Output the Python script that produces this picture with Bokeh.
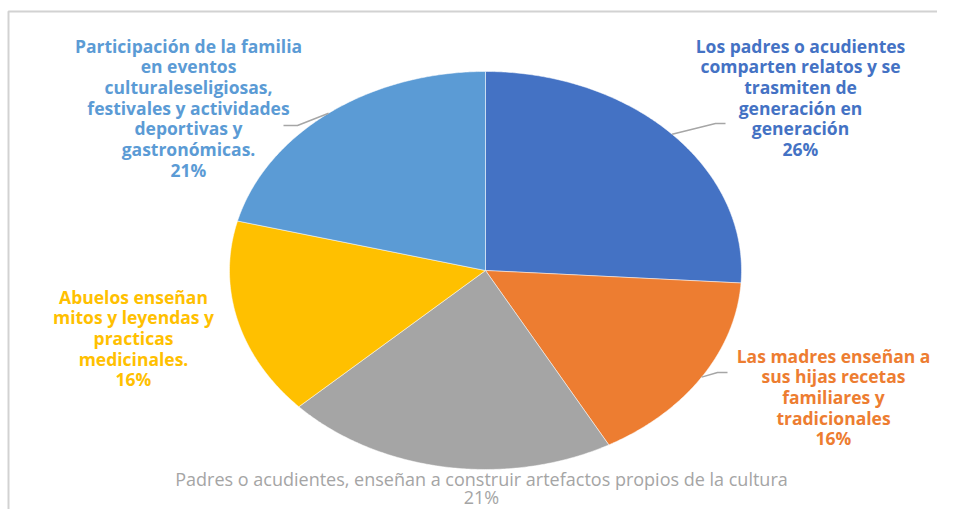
import math
from bokeh.plotting import figure
from bokeh.models import Range1d, ColumnDataSource
from bokeh.core.properties import value
from bokeh.embed import file_html
from bokeh.resources import INLINE

# ---- data ----
categories = [
    "Los padres o acudientes comparten relatos y se trasmiten de generación en generación",
    "Las madres enseñan a sus hijas recetas familiares y tradicionales",
    "Padres o acudientes, enseñan a construir artefactos propios de la cultura",
    "Abuelos enseñan mitos y leyendas y practicas medicinales.",
    "Participación de la familia en eventos culturaleseligiosas, festivales y actividades deportivas y gastronómicas.",
]
percents = [26, 16, 21, 16, 21]
colors = ["#4472C4", "#ED7D31", "#A5A5A5", "#FFC000", "#5B9BD5"]
label_lines = [
    ["Los padres o acudientes", "comparten relatos y se", "trasmiten de", "generación en", "generación"],
    ["Las madres enseñan a", "sus hijas recetas", "familiares y", "tradicionales"],
    ["Padres o acudientes, enseñan a construir artefactos propios de la cultura"],
    ["Abuelos enseñan", "mitos y leyendas y", "practicas", "medicinales."],
    ["Participación de la familia", "en eventos", "culturaleseligiosas,", "festivales y actividades", "deportivas y", "gastronómicas."],
]

# ---- layout (image pixel coordinates) ----
W, H = 937, 509
CX, CY, RX, RY = 485.0, 270.0, 256.0, 199.0
label_pos = [(800, 45), (833, 355), (481, 478), (133, 296), (188, 45)]
label_bold = [True, True, False, True, True]
leader = [True, True, False, False, True]
leader_end = [(725, 123), (727, 372), None, None, (283, 125)]
LINE_H = 20.7

p = figure(width=W, height=H, output_backend="svg", toolbar_location=None,
           x_range=Range1d(0, W), y_range=Range1d(H, 0),
           min_border=0, background_fill_color="white", border_fill_color="white")
p.xaxis.visible = False
p.yaxis.visible = False
p.xgrid.visible = False
p.ygrid.visible = False
p.outline_line_color = None

# frame
p.quad(left=[8], right=[960], top=[11], bottom=[518], fill_color=None,
       line_color="#d2d2d2", line_width=2)

def ell(theta_deg):
    t = math.radians(theta_deg)
    return CX + RX * math.cos(t), CY - RY * math.sin(t)

total = sum(percents)
xs, ys, mids = [], [], []
cum = 0.0
for v in percents:
    a0 = 90 - 360 * cum / total
    a1 = 90 - 360 * (cum + v) / total
    n = max(int(abs(a1 - a0) * 2), 8)
    px, py = [CX], [CY]
    for i in range(n + 1):
        x, y = ell(a0 + (a1 - a0) * i / n)
        px.append(x)
        py.append(y)
    xs.append(px)
    ys.append(py)
    mids.append((a0 + a1) / 2)
    cum += v

p.patches(xs=xs, ys=ys, fill_color=colors, line_color="white", line_width=0.5)

# leader lines
for i in range(len(percents)):
    if not leader[i]:
        continue
    sx, sy = ell(mids[i])
    ex, ey = leader_end[i]
    if ex > sx:
        bx = ex - 10
    else:
        bx = ex + 14
    p.line([sx, bx, ex], [sy, ey, ey], line_color="#A6A6A6", line_width=1.5)

# labels
for i in range(len(percents)):
    lx, ly = label_pos[i]
    lines = label_lines[i] + [f"{percents[i]}%"]
    ys_l = [ly + k * LINE_H for k in range(len(lines))]
    if i == 2:
        ys_l = [ly, ly + 18.5]
    src = ColumnDataSource(dict(x=[lx] * len(lines), y=ys_l, t=lines))
    p.text(x="x", y="y", text="t", source=src, text_align="center",
           text_baseline="middle", text_color=colors[i],
           text_font=value("Open Sans"),
           text_font_style="bold" if label_bold[i] else "normal",
           text_font_size="17.5px" if label_bold[i] else "18px")

open("out.html", "w").write(file_html(p, INLINE))
